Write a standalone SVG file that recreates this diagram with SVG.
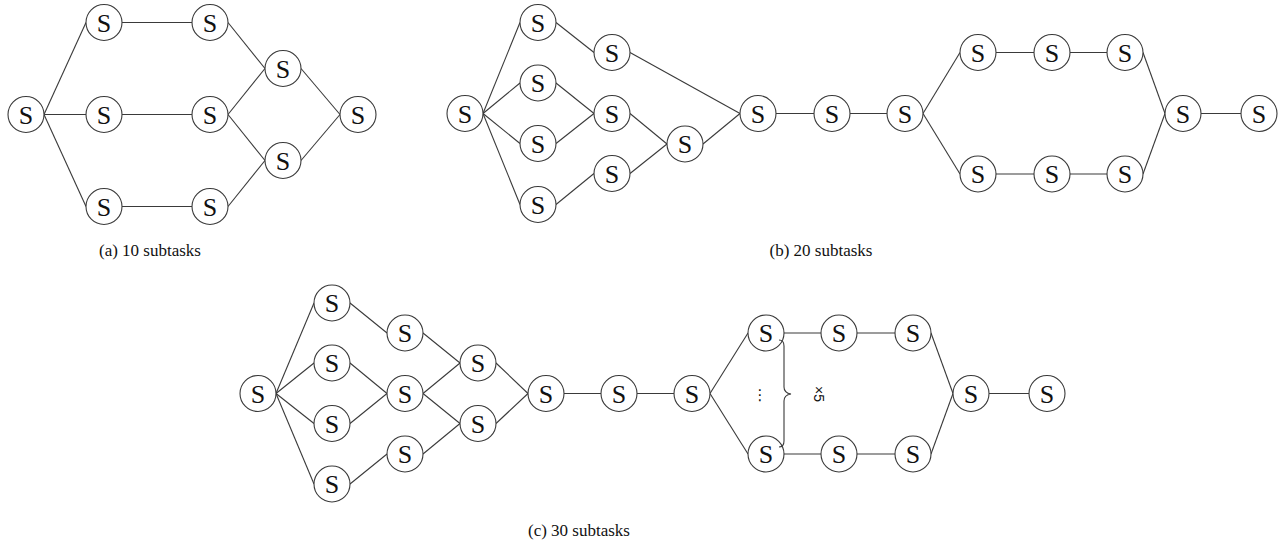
<svg xmlns="http://www.w3.org/2000/svg" width="1283" height="549" viewBox="0 0 1283 549">
  <style>
    .edge line { stroke: #3a3a3a; stroke-width: 1.1; }
    .caption { font-family: "Liberation Serif", "Times New Roman", serif; font-size: 17px; fill: #111; text-anchor: middle; }
    .brace { fill: none; stroke: #3a3a3a; stroke-width: 1.1; }
  </style>
  <defs>
    <!-- one subtask: circle with an S -->
    <g id="snode">
      <circle cx="0" cy="0" r="18" fill="#ffffff" stroke="#3a3a3a" stroke-width="1.1"/>
      <text x="0" y="9" font-family="Liberation Serif, Times New Roman, serif" font-size="26" fill="#111" text-anchor="middle">S</text>
    </g>
  </defs>

  <!-- connectors: east anchor of source to west anchor of target -->
  <g id="connectors" class="edge">
    <!-- (a) -->
    <line x1="44" y1="114.5" x2="86" y2="22.5"/>
    <line x1="44" y1="114.5" x2="86" y2="114.5"/>
    <line x1="44" y1="114.5" x2="86" y2="206.5"/>
    <line x1="122" y1="22.5" x2="192" y2="22.5"/>
    <line x1="122" y1="114.5" x2="192" y2="114.5"/>
    <line x1="122" y1="206.5" x2="192" y2="206.5"/>
    <line x1="228" y1="22.5" x2="265" y2="68.5"/>
    <line x1="228" y1="114.5" x2="265" y2="68.5"/>
    <line x1="228" y1="114.5" x2="265" y2="160.5"/>
    <line x1="228" y1="206.5" x2="265" y2="160.5"/>
    <line x1="301" y1="68.5" x2="340" y2="114.5"/>
    <line x1="301" y1="160.5" x2="340" y2="114.5"/>

    <!-- (b) -->
    <line x1="483" y1="113.5" x2="520" y2="22.5"/>
    <line x1="483" y1="113.5" x2="520" y2="83"/>
    <line x1="483" y1="113.5" x2="520" y2="143.5"/>
    <line x1="483" y1="113.5" x2="520" y2="204.5"/>
    <line x1="556" y1="22.5" x2="594" y2="52.5"/>
    <line x1="630" y1="52.5" x2="740" y2="113.5"/>
    <line x1="556" y1="83" x2="594" y2="113.5"/>
    <line x1="556" y1="143.5" x2="594" y2="113.5"/>
    <line x1="630" y1="113.5" x2="667" y2="144"/>
    <line x1="556" y1="204.5" x2="594" y2="173.5"/>
    <line x1="630" y1="173.5" x2="667" y2="144"/>
    <line x1="703" y1="144" x2="740" y2="113.5"/>
    <line x1="776" y1="113.5" x2="814" y2="113.5"/>
    <line x1="850" y1="113.5" x2="887" y2="113.5"/>
    <line x1="923" y1="113.5" x2="960" y2="52.5"/>
    <line x1="923" y1="113.5" x2="960" y2="174"/>
    <line x1="996" y1="52.5" x2="1034" y2="52.5"/>
    <line x1="1070" y1="52.5" x2="1107" y2="52.5"/>
    <line x1="996" y1="174" x2="1034" y2="174"/>
    <line x1="1070" y1="174" x2="1107" y2="174"/>
    <line x1="1143" y1="52.5" x2="1165" y2="113.5"/>
    <line x1="1143" y1="174" x2="1165" y2="113.5"/>
    <line x1="1201" y1="113.5" x2="1241" y2="113.5"/>

    <!-- (c) -->
    <line x1="276" y1="393.5" x2="314" y2="303"/>
    <line x1="276" y1="393.5" x2="314" y2="363"/>
    <line x1="276" y1="393.5" x2="314" y2="423.5"/>
    <line x1="276" y1="393.5" x2="314" y2="484"/>
    <line x1="350" y1="303" x2="387" y2="333"/>
    <line x1="423" y1="333" x2="460" y2="363"/>
    <line x1="350" y1="363" x2="387" y2="393.5"/>
    <line x1="350" y1="423.5" x2="387" y2="393.5"/>
    <line x1="423" y1="393.5" x2="460" y2="363"/>
    <line x1="423" y1="393.5" x2="460" y2="423.5"/>
    <line x1="350" y1="484" x2="387" y2="454"/>
    <line x1="423" y1="454" x2="460" y2="423.5"/>
    <line x1="496" y1="363" x2="528" y2="393.5"/>
    <line x1="496" y1="423.5" x2="528" y2="393.5"/>
    <line x1="564" y1="393.5" x2="601" y2="393.5"/>
    <line x1="637" y1="393.5" x2="674" y2="393.5"/>
    <line x1="710" y1="393.5" x2="748" y2="333"/>
    <line x1="710" y1="393.5" x2="748" y2="454"/>
    <line x1="784" y1="333" x2="821" y2="333"/>
    <line x1="857" y1="333" x2="895" y2="333"/>
    <line x1="784" y1="454" x2="821" y2="454"/>
    <line x1="857" y1="454" x2="895" y2="454"/>
    <line x1="931" y1="333" x2="953" y2="393.5"/>
    <line x1="931" y1="454" x2="953" y2="393.5"/>
    <line x1="989" y1="393.5" x2="1029" y2="393.5"/>
  </g>

  <!-- (a) 10 subtasks -->
  <g id="a0"><use href="#snode" x="26" y="114.5"/></g>
  <g id="a1"><use href="#snode" x="104" y="22.5"/></g>
  <g id="a2"><use href="#snode" x="210" y="22.5"/></g>
  <g id="a3"><use href="#snode" x="104" y="114.5"/></g>
  <g id="a4"><use href="#snode" x="210" y="114.5"/></g>
  <g id="a5"><use href="#snode" x="104" y="206.5"/></g>
  <g id="a6"><use href="#snode" x="210" y="206.5"/></g>
  <g id="a7"><use href="#snode" x="283" y="68.5"/></g>
  <g id="a8"><use href="#snode" x="283" y="160.5"/></g>
  <g id="a9"><use href="#snode" x="358" y="114.5"/></g>

  <!-- (b) 20 subtasks -->
  <g id="b0"><use href="#snode" x="465" y="113.5"/></g>
  <g id="b1"><use href="#snode" x="538" y="22.5"/></g>
  <g id="b2"><use href="#snode" x="538" y="83"/></g>
  <g id="b3"><use href="#snode" x="538" y="143.5"/></g>
  <g id="b4"><use href="#snode" x="538" y="204.5"/></g>
  <g id="b5"><use href="#snode" x="612" y="52.5"/></g>
  <g id="b6"><use href="#snode" x="612" y="113.5"/></g>
  <g id="b7"><use href="#snode" x="612" y="173.5"/></g>
  <g id="b8"><use href="#snode" x="685" y="144"/></g>
  <g id="b9"><use href="#snode" x="758" y="113.5"/></g>
  <g id="b10"><use href="#snode" x="832" y="113.5"/></g>
  <g id="b11"><use href="#snode" x="905" y="113.5"/></g>
  <g id="b12"><use href="#snode" x="978" y="52.5"/></g>
  <g id="b13"><use href="#snode" x="1052" y="52.5"/></g>
  <g id="b14"><use href="#snode" x="1125" y="52.5"/></g>
  <g id="b15"><use href="#snode" x="978" y="174"/></g>
  <g id="b16"><use href="#snode" x="1052" y="174"/></g>
  <g id="b17"><use href="#snode" x="1125" y="174"/></g>
  <g id="b18"><use href="#snode" x="1183" y="113.5"/></g>
  <g id="b19"><use href="#snode" x="1259" y="113.5"/></g>

  <!-- (c) 30 subtasks -->
  <g id="c0"><use href="#snode" x="258" y="393.5"/></g>
  <g id="c1"><use href="#snode" x="332" y="303"/></g>
  <g id="c2"><use href="#snode" x="332" y="363"/></g>
  <g id="c3"><use href="#snode" x="332" y="423.5"/></g>
  <g id="c4"><use href="#snode" x="332" y="484"/></g>
  <g id="c5"><use href="#snode" x="405" y="333"/></g>
  <g id="c6"><use href="#snode" x="405" y="393.5"/></g>
  <g id="c7"><use href="#snode" x="405" y="454"/></g>
  <g id="c8"><use href="#snode" x="478" y="363"/></g>
  <g id="c9"><use href="#snode" x="478" y="423.5"/></g>
  <g id="c10"><use href="#snode" x="546" y="393.5"/></g>
  <g id="c11"><use href="#snode" x="619" y="393.5"/></g>
  <g id="c12"><use href="#snode" x="692" y="393.5"/></g>
  <g id="c13"><use href="#snode" x="766" y="333"/></g>
  <g id="c14"><use href="#snode" x="839" y="333"/></g>
  <g id="c15"><use href="#snode" x="913" y="333"/></g>
  <g id="c16"><use href="#snode" x="766" y="454"/></g>
  <g id="c17"><use href="#snode" x="839" y="454"/></g>
  <g id="c18"><use href="#snode" x="913" y="454"/></g>
  <g id="c19"><use href="#snode" x="971" y="393.5"/></g>
  <g id="c20"><use href="#snode" x="1047" y="393.5"/></g>

  <!-- repeated branch marker: dots, brace and count -->
  <g id="repeat">
    <text x="760" y="400" font-family="DejaVu Sans, sans-serif" font-size="15" text-anchor="middle" fill="#111">⋮</text>
    <path class="brace" d="M779 340 Q784 340 784 346 L784 387 Q784 393 791 394 Q784 395 784 401 L784 441 Q784 447 779 447"/>
    <text transform="translate(814 394) rotate(90)" font-family="Liberation Sans, Arial, sans-serif" font-size="14" text-anchor="middle" fill="#111">×5</text>
  </g>

  <g id="captions">
    <text class="caption" x="150" y="256">(a) 10 subtasks</text>
    <text class="caption" x="821" y="256">(b) 20 subtasks</text>
    <text class="caption" x="579" y="536">(c) 30 subtasks</text>
  </g>
</svg>
